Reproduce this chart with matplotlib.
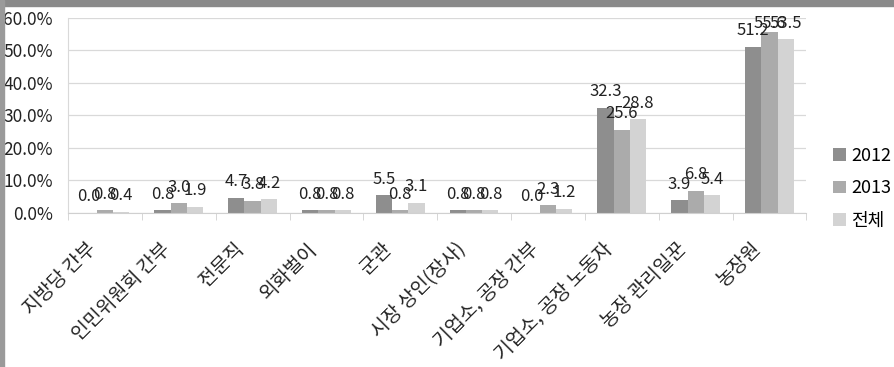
import matplotlib
matplotlib.use("Agg")
import matplotlib.pyplot as plt
from matplotlib.patches import Rectangle
from matplotlib.transforms import ScaledTranslation
import numpy as np

plt.rcParams['font.family'] = ['Noto Sans CJK KR', 'DejaVu Sans']

categories = ['지방당 간부', '인민위원회 간부', '전문직', '외화벌이', '군관',
              '시장 상인(장사)', '기업소, 공장 간부', '기업소, 공장 노동자',
              '농장 관리일꾼', '농장원']
v2012 = [0.0, 0.8, 4.7, 0.8, 5.5, 0.8, 0.0, 32.3, 3.9, 51.2]
v2013 = [0.8, 3.0, 3.8, 0.8, 0.8, 0.8, 2.3, 25.6, 6.8, 55.6]
v_all = [0.4, 1.9, 4.2, 0.8, 3.1, 0.8, 1.2, 28.8, 5.4, 53.5]
series = [('2012', v2012, '#8e8e8e'), ('2013', v2013, '#ababab'), ('전체', v_all, '#d3d3d3')]

fig = plt.figure(figsize=(8.95, 3.67), dpi=100)
ax = fig.add_axes([0.076, 0.42, 0.825, 0.531])

# frame strips along the top and left edges
fig.patches.append(Rectangle((0, 0.983), 1, 0.017, transform=fig.transFigure,
                             color='#8a8a8a', zorder=0))
fig.patches.append(Rectangle((0, 0), 0.005, 1, transform=fig.transFigure,
                             color='#9a9a9a', zorder=0))

x = np.arange(len(categories))
w = 0.22
for i, (name, vals, col) in enumerate(series):
    pos = x + (i - 1) * w
    ax.bar(pos, vals, width=w, color=col, label=name, zorder=2)
    for px, v in zip(pos, vals):
        # labels sit above the bar but stay inside the plot area
        ly = min(v + 2.3, 55.8)
        ax.text(px, ly, f'{v:.1f}', ha='center', va='bottom',
                fontsize=12, color='#222222')

ax.set_xlim(-0.5, len(categories) - 0.5)
ax.set_ylim(0, 60)
ax.set_yticks(np.arange(0, 61, 10))
ax.set_yticklabels([f'{t:.1f}%' for t in range(0, 61, 10)], fontsize=12.5, color='#222222')
ax.yaxis.grid(True, color='#d9d9d9', linewidth=0.9, zorder=0)
ax.tick_params(axis='y', length=0, pad=11)

ax.set_xticks(x)
ax.set_xticklabels(categories, rotation=45, ha='right', va='center',
                   rotation_mode='anchor', fontsize=14, color='#222222')
ax.tick_params(axis='x', length=0, pad=0)
shift = ScaledTranslation(-0.12, -0.33, fig.dpi_scale_trans)
for lab in ax.get_xticklabels():
    lab.set_transform(lab.get_transform() + shift)
ax.set_xticks(np.arange(-0.5, len(categories)), minor=True)
ax.tick_params(axis='x', which='minor', length=5, color='#d0d0d0')

for s in ['top', 'right']:
    ax.spines[s].set_visible(False)
ax.spines['left'].set_color('#d9d9d9')
ax.spines['bottom'].set_color('#d0d0d0')

fig.legend(loc='upper left', bbox_to_anchor=(0.931, 0.6), frameon=False,
           fontsize=13, handlelength=0.7, handleheight=0.7, handletextpad=0.3,
           labelspacing=0.8, borderaxespad=0, borderpad=0)

fig.savefig('out.png', dpi=100)
